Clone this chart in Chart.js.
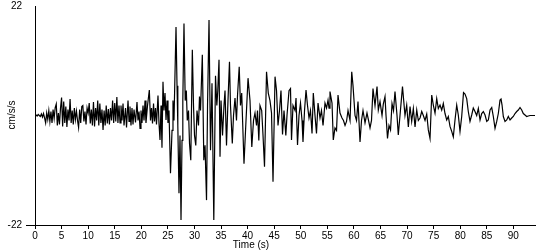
<!DOCTYPE html>
<html>
<head>
<meta charset="utf-8">
<script src="https://cdn.jsdelivr.net/npm/chart.js@4.4.1/dist/chart.umd.min.js"></script>
<style>
  html, body { margin: 0; padding: 0; background: #fff; }
  canvas { display: block; }
</style>
</head>
<body>
<canvas id="quake" width="550" height="250"></canvas>
<script>
// time (s) of each sample
const times = [
  0, 0.2, 0.4, 0.6, 0.8, 1, 1.2, 1.4, 1.6, 1.8,
  2, 2.2, 2.4, 2.6, 2.8, 3, 3.2, 3.4, 3.6, 3.8,
  4, 4.2, 4.4, 4.6, 4.8, 5, 5.2, 5.4, 5.6, 5.8,
  6, 6.2, 6.4, 6.6, 6.8, 7, 7.2, 7.4, 7.6, 7.8,
  8, 8.2, 8.4, 8.6, 8.8, 9, 9.2, 9.4, 9.6, 9.8,
  10, 10.2, 10.4, 10.6, 10.8, 11, 11.2, 11.4, 11.6, 11.8,
  12, 12.2, 12.4, 12.6, 12.8, 13, 13.2, 13.4, 13.6, 13.8,
  14, 14.2, 14.4, 14.6, 14.8, 15, 15.2, 15.4, 15.6, 15.8,
  16.00, 16.18, 16.37, 16.56, 16.75, 17.03, 17.22, 17.50, 17.69, 17.87,
  18.06, 18.25, 18.44, 18.63, 18.91, 19.19, 19.38, 19.57, 19.76, 19.94,
  20.13, 20.32, 20.51, 20.70, 20.88, 21.17, 21.51, 21.73, 21.92, 22.11,
  22.30, 22.48, 22.67, 22.86, 23.14, 23.33, 23.52, 23.71, 23.89, 24.08,
  24.27, 24.46, 24.65, 24.84, 25.02, 25.21, 25.49, 25.78, 25.96, 26.15,
  26.53, 26.72, 26.87, 27.09, 27.28, 27.47, 27.66, 27.81, 28.03, 28.26,
  28.47, 28.65, 28.88, 29.07, 29.31, 29.60, 29.82, 30.01, 30.25, 30.48,
  30.76, 30.95, 31.14, 31.48, 31.76, 31.99, 32.27, 32.46, 32.74, 33.02,
  33.30, 33.64, 33.96, 34.21, 34.39, 34.62, 34.81, 35.00, 35.28, 35.56,
  35.75, 36.03, 36.31, 36.59, 36.78, 37.12, 37.35, 37.63, 37.91, 38.10,
  38.42, 38.66, 38.89, 39.32, 39.61, 40.08, 40.45, 40.79, 41.11, 41.39,
  41.68, 41.86, 42.11, 42.33, 42.65, 42.90, 43.18, 43.56, 43.89, 44.21,
  44.50, 44.78, 45.16, 45.44, 45.72, 46.00, 46.28, 46.57, 46.85, 47.19,
  47.41, 47.79, 48.07, 48.26, 48.54, 48.92, 49.11, 49.39, 49.67, 49.95,
  50.24, 50.42, 50.71, 50.99, 51.27, 51.55, 51.83, 52.12, 52.36, 52.68,
  52.96, 53.25, 53.62, 53.90, 54.19, 54.56, 54.85, 55.13, 55.32, 55.50,
  55.88, 56.12, 56.44, 56.73, 57.01, 57.38, 57.76, 58.04, 58.33, 58.61,
  58.89, 59.27, 59.59, 59.83, 60.21, 60.49, 60.77, 61.15, 61.43, 61.71,
  62.09, 62.46, 62.75, 63.03, 63.31, 63.59, 63.97, 64.35, 64.59, 64.91,
  65.29, 65.53, 65.85, 66.04, 66.32, 66.60, 66.89, 67.17, 67.45, 67.73,
  68.11, 68.35, 68.67, 69.14, 69.61, 69.93, 70.24, 70.56, 70.87, 71.18,
  71.50, 71.82, 72.12, 72.44, 72.76, 73.06, 73.38, 73.70, 74.00, 74.32,
  74.64, 74.94, 75.26, 75.58, 75.88, 76.20, 76.52, 76.82, 77.14, 77.46,
  77.76, 78.08, 78.40, 78.70, 79.02, 79.34, 79.64, 79.96, 80.28, 80.62,
  80.90, 81.22, 81.52, 81.84, 82.16, 82.46, 82.78, 83.10, 83.41, 83.73,
  84.04, 84.35, 84.67, 84.99, 85.29, 85.61, 85.93, 86.23, 86.55, 86.87,
  87.17, 87.49, 87.68, 87.87, 88.11, 88.43, 88.75, 89.05, 89.37, 89.69,
  89.99, 90.31, 90.63, 90.93, 91.25, 91.57, 91.87, 92.19, 92.51, 92.81,
  93.13, 94.07
];

// acceleration (cm/s/s)
const accel = [
  0, 0.1, -0.1, 0.2, 0, -0.2, 0.3, -0.3, 0.4, -0.5,
  -1.5, 0.5, -0.8, 1, -1.2, 0.8, -1.5, 1.2, -0.6, 1.6,
  2.3, -2, 0.5, -1.8, 1.5, 3.6, -2.2, 2.8, -1.5, 1.8,
  -2.3, 1.2, -1, 3.3, -1.5, 1, -1.8, 1.5, -0.8, 0.9,
  -1, -2.4, 1.2, -1.5, 1.8, 2, -1.2, 0.8, -1.8, 1.5,
  0.5, 2.5, -1.6, 1.2, -2, 2.7, -2.2, 1.5, -1, 3,
  -2, 2.4, -1.5, 1.2, -2.9, 1, -2, 2, -1.6, 1.3,
  -1.8, 1.5, -1, 3, -1.5, 2.5, -1.2, 3.7, -1.5, 2,
  -1.5, 2, -1, 2.4, -2, 1.5, -2.4, 3, -1.2, 1.8,
  -2, 1.5, -1.8, 1.2, -1.4, 2.7, -1, 0.8, -2.6, 1,
  -1.5, 2, -1, 3, -1.5, 2, 5.1, -1, 1.5, -1.6,
  2.4, -1.2, 1.5, -1.8, 4, -1.6, -4.9, 2, -6.5, 6.8,
  1, 4.5, -0.9, 3, -1.5, 1, -11.6, -3, 3, -1,
  17.8, 6, -2, -15.6, -4, -21, -5, 3, 18.5, 3,
  5, -1, 1, -5.6, -9, 13.2, 2, -4, -6, 1,
  -2, 3.8, 1, 12.2, -9, -6, -17, 2, 19.2, -7,
  6.5, -21, 8, 2, 5, 11.2, -8.3, 3, -4, 2,
  5, -6, 3, 10.8, 2, -5.6, 0, 3.5, -1, 4,
  9.8, 2, 4.5, -9.7, -3, 7.5, 3, -6.3, -1, 0.5,
  -2, 1, -5, 2, 1, -4, -10.3, 8.8, 4.5, 3,
  0.5, -13.3, 7.8, 5, -2, 1, 5, -3.8, 1, -4,
  0, 5, 5.4, -4.9, 2, 1, 3.5, -5.9, 0, 2.5,
  -1, -5.3, 1, 5.1, 2, -0.5, 1, -3.6, 4.5, 0,
  -3.6, 2.5, -0.5, 1, -2, 2.5, 1.5, 3.1, 1.5, 4.8,
  2.5, -4.9, -2.5, -3, 4.1, 0.5, -0.5, -1, -2, -1.2,
  1, -1, 8.8, 6, 0, -1, 2.8, -5.3, -1, 1,
  -1.5, 0.5, -1, -2.5, -1, 5.4, 2, 5.8, 1.1, 2.8,
  0, 2.3, 3.8, 0, -4.6, -2, -2.9, 2.4, 1, 4.8,
  0, -3.9, 0, 5.8, 0, 2.1, -2.3, 1.8, -1.2, 1.4,
  -2.3, 1.1, -1, -0.5, 0.8, 0, -1, 0.3, -2.9, -4.6,
  4.1, 2.1, 0.5, 3.4, 1.4, 2.1, 1.1, 2.4, 0.4, -0.9,
  -0.2, -2.2, -3.2, -4.3, -0.9, 2.1, 0.1, -3.2, -0.2, 4.6,
  4.3, 3.4, 0.8, -1.2, 0.1, 1.5, 0.8, 0, 1.4, -0.9,
  0.4, 0.8, 0.1, -1.2, -0.9, 1.1, 1.6, -0.2, -2.6, -1.2,
  0.4, 3.1, 3.3, 2.1, -0.2, -1.2, -0.9, -0.2, -0.9, -0.5,
  -0.2, 0.4, 0.8, 1.1, 1.6, 1.1, 0.4, 0.1, -0.2, -0.1,
  0, 0
];

const xTicks = [0, 5, 10, 15, 20, 25, 30, 35, 40, 45, 50, 55, 60, 65, 70, 75, 80, 85, 90];
const yTicks = [-22, 22];
const xTitle = 'Time (s)';
const yTitle = 'cm/s/s';

const FONT = 'Liberation Sans';

// axis titles sit a little off the usual spot, so draw them by hand
const axisTitles = {
    id: 'axisTitles',
    afterDraw(chart) {
        const ctx = chart.ctx;
        ctx.save();
        ctx.fillStyle = '#000';
        ctx.font = '10px "' + FONT + '"';
        ctx.textAlign = 'center';
        ctx.textBaseline = 'middle';
        ctx.fillText(xTitle, 251, 245);
        ctx.translate(12, 115);
        ctx.rotate(-Math.PI / 2);
        ctx.fillText(yTitle, 0, 0);
        ctx.restore();
    }
};

new Chart(document.getElementById('quake'), {
    type: 'line',
    data: {
        datasets: [{
            data: times.map((t, i) => ({ x: t, y: accel[i] })),
            borderColor: '#000',
            borderWidth: 1.2,
            pointRadius: 0,
            tension: 0,
            fill: false
        }]
    },
    options: {
        responsive: false,
        animation: false,
        devicePixelRatio: 1,
        layout: { padding: { top: 6, right: 15, left: 0, bottom: 0 } },
        plugins: { legend: { display: false }, tooltip: { enabled: false } },
        scales: {
            x: {
                type: 'linear',
                min: 0,
                max: 94.07,
                afterBuildTicks: s => { s.ticks = xTicks.map(v => ({ value: v })); },
                afterFit: s => { s.height = 25; s.paddingLeft = 0; s.paddingRight = 0; },
                grid: { drawOnChartArea: false, tickLength: 4, tickColor: '#000' },
                border: { color: '#000', width: 1 },
                ticks: { color: '#000', font: { family: FONT, size: 10 }, padding: 1, maxRotation: 0, autoSkip: false }
            },
            y: {
                min: -22,
                max: 22,
                afterBuildTicks: s => { s.ticks = yTicks.map(v => ({ value: v })); },
                afterFit: s => { s.width = 35; s.paddingTop = 0; s.paddingBottom = 0; },
                grid: {
                    drawOnChartArea: false,
                    tickLength: 9,
                    tickColor: c => (c.tick && c.tick.value === -22) ? '#000' : 'rgba(0,0,0,0)'
                },
                border: { color: '#000', width: 1 },
                ticks: { color: '#000', font: { family: FONT, size: 10 }, padding: 4 }
            }
        }
    },
    plugins: [axisTitles]
});
</script>
</body>
</html>
